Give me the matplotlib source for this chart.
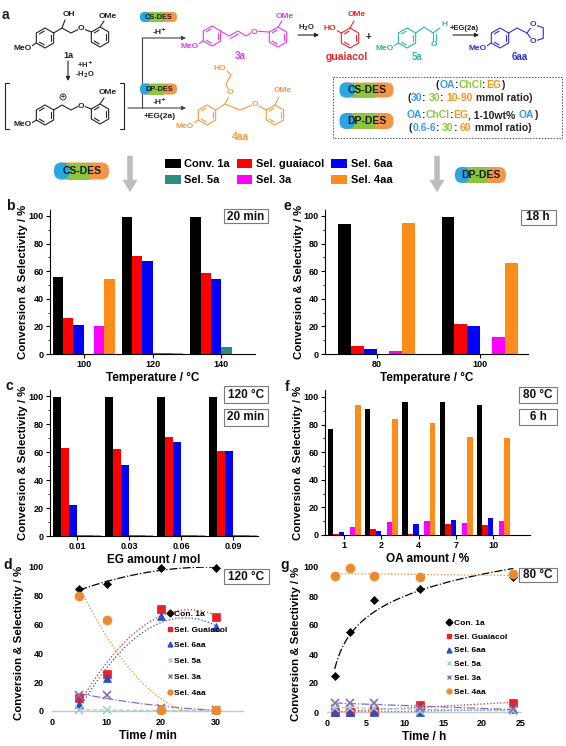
import numpy as np
import matplotlib
matplotlib.use('Agg')
import matplotlib.pyplot as plt
from matplotlib.patches import FancyBboxPatch, Rectangle, Polygon, Circle
from matplotlib.lines import Line2D

plt.rcParams['font.family'] = ['Liberation Sans', 'DejaVu Sans']
plt.rcParams['font.weight'] = 'bold'
plt.rcParams['axes.labelweight'] = 'bold'

# ---------------- data ----------------
bar_names = ['Conv. 1a', 'Sel. guaiacol', 'Sel. 6aa', 'Sel. 5a', 'Sel. 3a', 'Sel. 4aa']
bar_colors = ['#000000', '#ff0000', '#0000ff', '#2e8b80', '#ff00ff', '#ff8c1a']

# b: temperature, CS-DES, 20 min
b_temp = ['100', '120', '140']
b_conv = [56, 99, 99]
b_guai = [26, 71, 59]
b_6aa = [21, 67, 54]
b_5a = [0, 1, 5]
b_3a = [20, 1, 0]
b_4aa = [54, 1, 0]

# e: temperature, DP-DES, 18 h
e_temp = ['80', '100']
e_conv = [94, 99]
e_guai = [6, 22]
e_6aa = [3.5, 20]
e_5a = [0, 0]
e_3a = [2, 12]
e_4aa = [95, 66]

# c: EG amount
c_eg = ['0.01', '0.03', '0.06', '0.09']
c_conv = [99, 99, 99, 99]
c_guai = [63, 62, 71, 61]
c_6aa = [22, 51, 67, 61]
c_5a = [1, 1, 1, 1]
c_3a = [1, 1, 1, 1]
c_4aa = [1, 1, 1, 1]

# f: OA amount
f_oa = ['1', '2', '4', '7', '10']
f_conv = [77, 91, 96, 96, 94]
f_guai = [1, 4, 1, 8, 7]
f_6aa = [2, 3, 8, 11, 12]
f_5a = [0, 0, 0, 0, 0]
f_3a = [6, 9.5, 10, 9, 10.5]
f_4aa = [94, 84, 81, 71, 70]

# d: time course at 120 C (min)
d_time = [5, 10, 20, 30]
d_conv = [85, 88, 99, 99.5]
d_guai = [9, 26, 71, 65]
d_6aa = [5, 23, 66, 58]
d_5a = [1, 0.5, 0.5, 0.5]
d_3a = [11, 11, 2, 1]
d_4aa = [80, 63, 1, 1]

# g: time course at 80 C (h)
g_time = [1, 3, 6, 12, 24]
g_conv = [25, 55, 77, 85, 93]
g_guai = [0, 0, 1, 5, 6]
g_6aa = [0, 0, 0, 0, 2]
g_5a = [3, 3, 3, 1, 1]
g_3a = [6, 6, 6, 3, 2]
g_4aa = [94, 99, 94, 93, 95]

line_names = ['Con. 1a', 'Sel. Guaiacol', 'Sel. 6aa', 'Sel. 5a', 'Sel. 3a', 'Sel. 4aa']
line_colors = ['#000000', '#e8202a', '#2a4fc7', '#9fcfcf', '#8c6bb8', '#eb8a2e']
line_markers = ['D', 's', '^', 'x', 'x', 'o']
line_ms = [4.5, 6, 6, 5.5, 5.5, 6.5]
line_ls = ['-.', ':', ':', '--', '-.', ':']

W, H = 566, 746
fig = plt.figure(figsize=(W / 100, H / 100), dpi=100)


def px_axes(l, t, r, b):
    return fig.add_axes([l / W, 1 - b / H, (r - l) / W, (b - t) / H])


def bar_panel(ax, cats, series, w, xlim, ytop, xlabel):
    x = np.arange(len(cats))
    conts = []
    for i, vals in enumerate(series):
        conts.append(ax.bar(x + (i - 2.5) * w, vals, w, color=bar_colors[i],
                            label=bar_names[i], linewidth=0))
    ax.set_xlim(*xlim)
    ax.set_ylim(0, ytop)
    ax.set_xticks(x)
    ax.set_xticklabels(cats)
    ax.set_yticks(range(0, 101, 20))
    ax.set_yticks(range(10, 100, 20), minor=True)
    for s in ['top', 'right']:
        ax.spines[s].set_visible(False)
    for s in ['left', 'bottom']:
        ax.spines[s].set_linewidth(0.8)
    ax.tick_params(direction='out', length=3, width=0.8, labelsize=6.5, pad=1.5)
    ax.tick_params(which='minor', direction='out', length=1.5, width=0.6)
    ax.set_ylabel('Conversion & Selectivity / %', fontsize=8.2)
    ax.yaxis.set_label_coords(-0.105, 0.5)
    ax.set_xlabel(xlabel, fontsize=8.5, labelpad=2)
    return conts


def trend(ax, t, v, kind, col, ls):
    t = np.asarray(t, float)
    v = np.asarray(v, float)
    tt = np.linspace(t.min(), t.max(), 120)
    if kind == 'log':
        p = np.polyfit(np.log(t), v, 1)
        yy = np.polyval(p, np.log(tt))
    else:
        p = np.polyfit(t, v, 2 if kind == 'poly2' else 1)
        yy = np.polyval(p, tt)
    ax.plot(tt, yy, color=col, ls=ls, lw=0.9)


def line_panel(ax, t, series, kinds, xlim, xticks, xlabel, leg_xy, leg_sp):
    for i, vals in enumerate(series):
        trend(ax, t, vals, kinds[i], line_colors[i], line_ls[i])
    order = [3, 4, 1, 2, 0, 5]
    for i in order:
        ax.plot(t, series[i], ls='none', marker=line_markers[i], color=line_colors[i],
                ms=line_ms[i], mew=1.2 if line_markers[i] == 'x' else 0.5,
                clip_on=False, zorder=3 + i)
    ax.set_xlim(*xlim)
    ax.set_ylim(0, 100)
    ax.set_xticks(xticks)
    ax.set_yticks(range(0, 101, 20))
    for s in ['top', 'right', 'left']:
        ax.spines[s].set_visible(False)
    ax.spines['bottom'].set_color('#c8c8c8')
    ax.spines['bottom'].set_linewidth(1.0)
    ax.tick_params(length=0, labelsize=6.5)
    ax.tick_params(axis='y', pad=6)
    ax.tick_params(axis='x', pad=5)
    ax.set_ylabel('Conversion & Selectivity / %', fontsize=8.2)
    ax.set_xlabel(xlabel, fontsize=8.5, labelpad=2)
    handles = [Line2D([], [], ls='none', marker=line_markers[i], color=line_colors[i],
                      ms=3.5, mew=1) for i in range(6)]
    ax.legend(handles, line_names, loc='upper left',
              bbox_to_anchor=(leg_xy[0] / W, 1 - leg_xy[1] / H),
              bbox_transform=fig.transFigure, frameon=False, fontsize=6,
              handlelength=0.6, handletextpad=0.3, labelspacing=leg_sp,
              borderpad=0, borderaxespad=0)


# ---------------- bar panels ----------------
ax_b = px_axes(50, 210, 255, 354)
conts_b = bar_panel(ax_b, b_temp, [b_conv, b_guai, b_6aa, b_5a, b_3a, b_4aa], 0.15,
                    (-0.49, 2.49), 104.3, 'Temperature / \u00b0C')

ax_e = px_axes(325, 210, 528, 354)
bar_panel(ax_e, e_temp, [e_conv, e_guai, e_6aa, e_5a, e_3a, e_4aa], 0.123,
          (-0.5, 1.47), 104.3, 'Temperature / \u00b0C')

ax_c = px_axes(50, 390, 258, 536)
bar_panel(ax_c, c_eg, [c_conv, c_guai, c_6aa, c_5a, c_3a, c_4aa], 0.155,
          (-0.52, 3.48), 104.3, 'EG amount / mol')

ax_f = px_axes(325, 390, 530, 535)
bar_panel(ax_f, f_oa, [f_conv, f_guai, f_6aa, f_5a, f_3a, f_4aa], 0.147,
          (-0.51, 4.98), 105, 'OA amount / %')

# ---------------- line panels ----------------
ax_d = px_axes(52, 567, 243, 711)
line_panel(ax_d, d_time, [d_conv, d_guai, d_6aa, d_5a, d_3a, d_4aa],
           ['poly2'] * 6, (0, 35), [0, 10, 20, 30], 'Time / min', (167, 610), 0.95)
ax_d.yaxis.set_label_coords(-0.145, 0.47)

ax_g = px_axes(327, 567, 521, 712)
line_panel(ax_g, g_time, [g_conv, g_guai, g_6aa, g_5a, g_3a, g_4aa],
           ['log', 'lin', 'lin', 'lin', 'lin', 'lin'], (0, 25), [0, 5, 10, 15, 20, 25],
           'Time / h', (447, 619), 0.72)
ax_g.yaxis.set_label_coords(-0.135, 0.47)

# bar legend (shared)
lh = [conts_b[0], conts_b[3], conts_b[1], conts_b[4], conts_b[2], conts_b[5]]
ll = [bar_names[0], bar_names[3], bar_names[1], bar_names[4], bar_names[2], bar_names[5]]
fig.legend(lh, ll, ncol=3, loc='upper left', bbox_to_anchor=(165 / W, 1 - 159 / H),
           frameon=False, fontsize=8, handlelength=1.4, handleheight=0.9,
           handletextpad=0.35, columnspacing=0.6, labelspacing=0.5,
           borderpad=0, borderaxespad=0)

# ---------------- overlay (scheme, labels, boxes) ----------------
ax0 = fig.add_axes([0, 0, 1, 1])
ax0.set_xlim(0, W)
ax0.set_ylim(H, 0)
ax0.axis('off')

BLUE, GREEN, ORANGE = '#2aa7e0', '#8cc63f', '#f4964a'
TB, TG, TO = '#3d9be9', '#8dc63f', '#f7941d'
K = '#222222'


def lab(x, y, s, col, fs=6, ha='center', bg=True):
    kw = dict(bbox=dict(fc='white', ec='none', pad=0.2)) if bg else {}
    ax0.text(x, y, s, color=col, fontsize=fs, ha=ha, va='center', zorder=5, **kw)


def bond(pts, col, lw=0.8):
    pts = np.asarray(pts)
    ax0.plot(pts[:, 0], pts[:, 1], color=col, lw=lw, solid_capstyle='round', zorder=3)


def hexring(cx, cy, r, col, dbl=(1, 3, 5)):
    ang = np.radians([90, 30, -30, -90, -150, 150])
    xs = cx + r * np.cos(ang)
    ys = cy - r * np.sin(ang)
    ax0.add_patch(Polygon(np.c_[xs, ys], closed=True, fill=False, ec=col, lw=0.8, zorder=3))
    for k in dbl:
        j = (k + 1) % 6
        p1 = np.array([cx + (xs[k] - cx) * 0.74, cy + (ys[k] - cy) * 0.74])
        p2 = np.array([cx + (xs[j] - cx) * 0.74, cy + (ys[j] - cy) * 0.74])
        d = p2 - p1
        bond([p1 + 0.12 * d, p2 - 0.12 * d], col)
    return list(zip(xs, ys))


def arrow(x1, y1, x2, y2, col=K):
    ax0.annotate('', xy=(x2, y2), xytext=(x1, y1),
                 arrowprops=dict(arrowstyle='-|>', color=col, lw=0.8,
                                 mutation_scale=6, shrinkA=0, shrinkB=0))


def badge(cx, cy, w, h, s, fs):
    x0, y0 = cx - w / 2, cy - h / 2
    r = h / 2
    ax0.add_patch(FancyBboxPatch((x0 + 1, y0), w - 2, h,
                                 boxstyle='round,pad=0,rounding_size=%.2f' % (r * 0.9),
                                 fc=ORANGE, ec='none', zorder=4))
    ax0.add_patch(Rectangle((x0 + 0.24 * w, y0), 0.4 * w, h, fc=GREEN, ec='none', zorder=4))
    ax0.add_patch(FancyBboxPatch((x0, y0), 0.28 * w, h,
                                 boxstyle='round,pad=0,rounding_size=%.2f' % (r * 0.9),
                                 fc=BLUE, ec='none', zorder=4))
    ax0.text(cx, cy + 0.3, s, fontsize=fs, ha='center', va='center', color='#1a1a1a', zorder=5)


def ctext(xc, y, parts, fs=7.5):
    rnd = fig.canvas.get_renderer()
    ts = [ax0.text(0, y, s, color=c, fontsize=fs, ha='left', va='center', zorder=5)
          for s, c in parts]
    ws = [t.get_window_extent(rnd).width for t in ts]
    x = xc - sum(ws) / 2
    for t, w in zip(ts, ws):
        t.set_x(x)
        x += w


def dimer(dy, col):
    A = hexring(45, 38 + dy, 10, col)
    B = hexring(100, 37 + dy, 10, col)
    c1 = (62, 28 + dy)
    o = (81, 28 + dy)
    bond([A[1], c1, (71, 33 + dy), o, B[5]], col)
    lab(o[0], o[1] + 1, 'O', col)
    bond([A[4], (30, 47 + dy)], col)
    lab(32, 48 + dy, 'MeO', col, ha='right')
    bond([B[0], (104, 21 + dy)], col)
    lab(108, 16 + dy, 'OMe', col)
    return c1


# 1a
c1 = dimer(0, K)
bond([c1, (65, 20)], K)
lab(69, 15, 'OH', K)
lab(68, 55, '1a', K, fs=6.5)
arrow(68, 61, 68, 81)
lab(85, 64, '+H$^{+}$', K, fs=5.5, bg=False)
lab(85, 75, '-H$_2$O', K, fs=5.5, bg=False)

# cation intermediate
c2 = dimer(77, K)
ax0.add_patch(Circle((c2[0] + 1, c2[1] - 8), 3, fill=False, ec=K, lw=0.6))
ax0.text(c2[0] + 1, c2[1] - 8, '+', fontsize=5, ha='center', va='center', color=K)
bond([(9, 83), (5, 83), (5, 129), (9, 129)], K)
bond([(120, 83), (124, 83), (124, 129), (120, 129)], K)

# branching arrows
bond([(142, 38), (142, 108)], '#444444')
arrow(142, 38, 186, 38, '#444444')
arrow(128, 108, 186, 108, '#444444')
badge(159, 17, 38, 10, 'CS-DES', 5.3)
lab(160, 31, '-H$^{+}$', K, fs=6, bg=False)
badge(159, 89, 38, 11, 'DP-DES', 5.3)
lab(160, 101, '-H$^{+}$', K, fs=6, bg=False)
lab(160, 117, '+EG(2a)', K, fs=6, bg=False)

# 3a
MG = '#e23de2'
E = hexring(212, 36, 10, MG)
F = hexring(278, 37, 10, MG)
bond([E[1], (229, 36), (238, 31), (246, 36), (254, 31), F[5]], MG)
bond([(230.5, 38.5), (238.5, 34)], MG)
lab(254, 32, 'O', MG)
bond([E[4], (197, 45)], MG)
lab(199, 47, 'MeO', MG, ha='right')
bond([F[0], (282, 21)], MG)
lab(285, 16, 'OMe', MG)
lab(240, 56, '3a', MG, fs=7)

# 4aa
OR = '#f39a3c'
R1 = hexring(207, 115, 10, OR)
R2 = hexring(275, 115, 10, OR)
bond([R1[1], (225, 104), (240, 110), (255, 104), R2[5]], OR)
lab(255, 105, 'O', OR)
bond([(225, 104), (230, 94), (226, 84), (231, 75), (226, 70)], OR)
lab(230, 93, 'O', OR)
lab(220, 68, 'HO', OR)
bond([R1[4], (192, 124)], OR)
lab(194, 126, 'MeO', OR, ha='right')
bond([R2[0], (279, 97)], OR)
lab(283, 91, 'OMe', OR)
lab(240, 137, '4aa', OR, fs=7.5)

# H2O step
arrow(298, 35, 319, 35)
lab(307, 28, 'H$_2$O', K, fs=5.5, bg=False)

# guaiacol
RD = '#e8262a'
G = hexring(350, 38, 10, RD)
bond([G[5], (336, 30)], RD)
lab(330, 29, 'HO', RD)
bond([G[0], (354, 21)], RD)
lab(357, 15, 'OMe', RD)
lab(347, 57, 'guaiacol', RD, fs=7.5)
lab(368, 37, '+', K, fs=7, bg=False)

# 5a
TL = '#2fb5a5'
T = hexring(407, 38, 10, TL)
bond([T[4], (392, 47)], TL)
lab(394, 48, 'MeO', TL, ha='right')
bond([T[1], (424, 27), (433, 33), (440, 28)], TL)
bond([(433, 33), (433, 42)], TL)
bond([(436, 34), (436, 41)], TL)
lab(444, 25, 'H', TL)
lab(434, 45, 'O', TL)
lab(417, 57, '5a', TL, fs=7)

# 6aa step
arrow(453, 35, 479, 35)
lab(464, 28, '+EG(2a)', K, fs=5.5, bg=False)

# 6aa
BL = '#3030d0'
S = hexring(500, 38, 10, BL, dbl=(1, 3, 5))
bond([S[4], (485, 47)], BL)
lab(487, 48, 'MeO', BL, ha='right')
pa = np.radians([180, 108, 36, -36, -108])
pent = np.c_[536 + 9 * np.cos(pa), 33 - 9 * np.sin(pa)]
bond([S[1], (517, 28), tuple(pent[0])], BL)
ax0.add_patch(Polygon(pent, closed=True, fill=False, ec=BL, lw=0.8, zorder=3))
lab(pent[1][0], pent[1][1], 'O', BL)
lab(pent[4][0], pent[4][1], 'O', BL)
lab(520, 57, '6aa', BL, fs=7)

# conditions box
ax0.add_patch(Rectangle((333, 77), 229, 61, fill=False, ec='#555555', lw=0.7,
                        ls=(0, (1.5, 1.5)), zorder=3))
badge(367, 90, 55, 15, 'CS-DES', 7.5)
badge(367, 121, 55, 16, 'DP-DES', 7.5)
ctext(470, 85, [('(', K), ('OA', TB), (':', K), ('ChCl', TG), (':', K), ('EG', TO), (')', K)])
ctext(470, 98, [('(', K), ('30', TB), (': ', K), ('30', TG), (': ', K), ('10-90', TO),
                (' mmol ratio)', K)])
ctext(472, 115, [('OA', TB), (':', K), ('ChCl', TG), (':', K), ('EG', TO),
                 (', 1-10wt% ', K), ('OA', TB), (')', K)])
ctext(470, 128, [('(', K), ('0.6-6', TB), (': ', K), ('30', TG), (': ', K), ('60', TO),
                 (' mmol ratio)', K)])

ax0.text(5, 15, 'a', fontsize=10, ha='center', va='center', color=K)

# DES badges and grey arrows above panels
badge(82, 171, 56, 17, 'CS-DES', 7.5)
badge(481, 175, 52, 16, 'DP-DES', 7.5)
for xa in (130, 437):
    ax0.annotate('', xy=(xa, 195), xytext=(xa, 153),
                 arrowprops=dict(arrowstyle='simple,head_width=1.1,head_length=0.9,tail_width=0.4',
                                 color='#bdbdbd', lw=0, mutation_scale=10))

# panel letters
for s, x, y in [('b', 10, 206), ('e', 287, 206), ('c', 9, 386), ('f', 287, 387),
                ('d', 8, 565), ('g', 285, 565)]:
    ax0.text(x, y, s, fontsize=10, ha='center', va='center', color='#111111')


def tbox(cx, cy, w, h, s):
    ax0.add_patch(Rectangle((cx - w / 2 + 1.2, cy - h / 2 + 1.2), w, h, fc='#c8c8c8',
                            ec='none', zorder=4))
    ax0.add_patch(Rectangle((cx - w / 2, cy - h / 2), w, h, fc='white', ec='#7a7a7a',
                            lw=0.8, zorder=5))
    ax0.text(cx, cy + 0.5, s, fontsize=8.5, ha='center', va='center', color='#111111', zorder=6)


tbox(246, 216, 44, 14, '20 min')
tbox(538, 217, 35, 15, '18 h')
tbox(246, 394, 44, 17, '120 \u00b0C')
tbox(246, 417, 44, 17, '20 min')
tbox(538, 395, 38, 16, '80 \u00b0C')
tbox(538, 417, 38, 16, '6 h')
tbox(246, 576, 45, 15, '120 \u00b0C')
tbox(538, 575, 38, 14, '80 \u00b0C')

fig.savefig('out.png', dpi=100)
